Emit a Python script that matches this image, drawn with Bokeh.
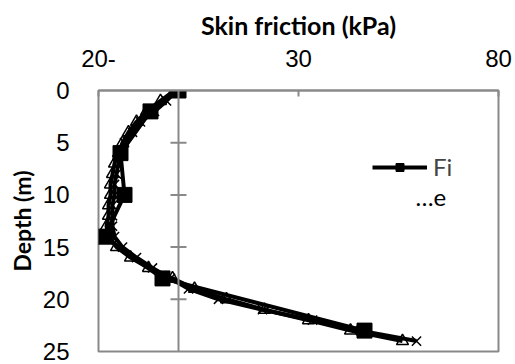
from bokeh.plotting import figure
from bokeh.models import Range1d, FixedTicker, Span, Legend, LegendItem, Label
from bokeh.embed import file_html
from bokeh.resources import INLINE

# ---- data ----
x_ticks = [-20, 30, 80]
x_tick_labels = ["20-", "30", "80"]
y_ticks = [0, 5, 10, 15, 20, 25]
y_axis_marks = [5, 10, 15, 20]

sq_depth = [0, 2, 6, 10, 14, 18, 23]
sq_friction = [0, -7, -14.5, -13.5, -18.5, -4, 46.5]

tri_depth = [0, 1, 2, 3, 4, 5, 6, 7, 8, 9, 10, 11, 12, 13, 14, 15, 16, 17, 18, 19, 20, 21, 22, 23, 24]
tri_friction = [-1, -4.5, -8, -10.5, -12.5, -14, -15, -16, -16.5, -17, -17, -17.5, -17.5, -18, -17.5,
                -15.5, -12, -7.5, -1.5, 4, 12, 21.5, 32.5, 43, 56]

x_depth = [0, 1, 2, 3, 4, 5, 6, 7, 8, 9, 10, 11, 12, 13, 14, 15, 16, 17, 18, 19, 20, 21, 22, 23, 24]
x_friction = [-0.5, -3, -6, -9.5, -11.5, -13.5, -14.5, -15, -15.5, -16, -16, -16.5, -16.5, -16.5, -16,
              -14, -10.5, -6.5, -2, 2.5, 10, 21, 33.5, 45.5, 59.5]

GRAY = "#898989"
TICK_FONT = "Arial"
TITLE_FONT = "Lato"

p = figure(width=515, height=364, x_range=Range1d(-20, 80), y_range=Range1d(25, 0),
           x_axis_location="above", output_backend="svg", toolbar_location=None,
           min_border_left=98, min_border_right=17, min_border_top=90, min_border_bottom=13)

p.grid.visible = False
p.outline_line_color = GRAY
p.outline_line_width = 2
p.background_fill_color = "white"
p.border_fill_color = "white"

# top x axis
xa = p.xaxis[0]
xa.ticker = FixedTicker(ticks=x_ticks)
xa.major_label_overrides = {t: l for t, l in zip(x_ticks, x_tick_labels)}
xa.axis_label = "Skin friction (kPa)"
xa.axis_label_text_font = TITLE_FONT
xa.axis_label_text_font_style = "bold"
xa.axis_label_text_font_size = "25px"
xa.axis_label_text_color = "black"
xa.axis_label_standoff = 7
xa.major_label_text_font = TICK_FONT
xa.major_label_text_font_size = "24px"
xa.major_label_text_color = "black"
xa.major_label_standoff = 24
xa.axis_line_color = GRAY
xa.axis_line_width = 2
xa.major_tick_line_color = GRAY
xa.major_tick_line_width = 2
xa.major_tick_in = 6
xa.major_tick_out = 0
xa.minor_tick_line_color = None

# left y axis (labels only)
ya = p.yaxis[0]
ya.ticker = FixedTicker(ticks=y_ticks)
ya.axis_label = "Depth (m)"
ya.axis_label_text_font = TITLE_FONT
ya.axis_label_text_font_style = "bold"
ya.axis_label_text_font_size = "23px"
ya.axis_label_text_color = "black"
ya.axis_label_standoff = 4
ya.major_label_text_font = TICK_FONT
ya.major_label_text_font_size = "24px"
ya.major_label_text_color = "black"
ya.major_label_standoff = 23
ya.axis_line_color = None
ya.major_tick_line_color = None
ya.minor_tick_line_color = None

# vertical value axis crossing at x = 0
p.add_layout(Span(location=0, dimension="height", line_color=GRAY, line_width=2))
p.scatter(x=[0] * len(y_axis_marks), y=y_axis_marks, marker="dash", size=16,
          line_color=GRAY, line_width=2)

# series
l2 = p.line(tri_friction, tri_depth, line_color="black", line_width=4)
p.scatter(tri_friction, tri_depth, marker="triangle", size=12, fill_color="white",
          fill_alpha=0, line_color="black", line_width=1.5)
l3 = p.line(x_friction, x_depth, line_color="black", line_width=4)
p.scatter(x_friction, x_depth, marker="x", size=13, line_color="black", line_width=1.5)
l1 = p.line(sq_friction, sq_depth, line_color="black", line_width=4)
s1 = p.scatter(sq_friction, sq_depth, marker="square", size=15, fill_color="black",
               line_color="black")

legend = Legend(items=[LegendItem(label="Fi", renderers=[l1, s1])],
                location=(274, 170), border_line_color=None, background_fill_alpha=0,
                glyph_width=55, glyph_height=20, label_text_font=TITLE_FONT,
                label_text_font_size="24px", padding=0, margin=0, label_standoff=6,
                spacing=0)
p.add_layout(legend)

p.add_layout(Label(x=59.25, y=10.2, text="\u2026e", text_font=TITLE_FONT,
                   text_font_size="24px", text_baseline="alphabetic", text_color="black"))

open("out.html", "w").write(file_html(p, INLINE))
